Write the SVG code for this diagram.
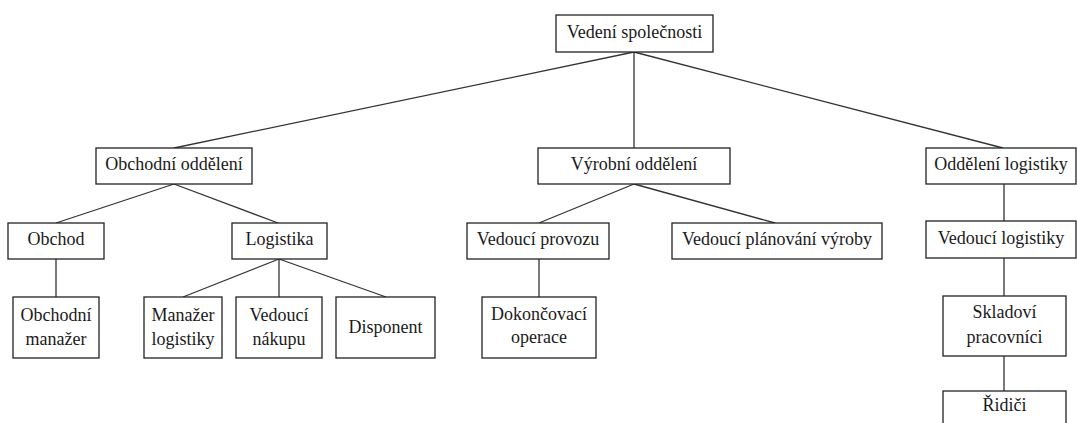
<svg xmlns="http://www.w3.org/2000/svg" width="1077" height="423" viewBox="0 0 1077 423">
<style>
rect.b{fill:#fff;stroke:#222;stroke-width:1.3}
text{font-family:"Liberation Serif","Times New Roman",serif;font-size:18px;fill:#1a1a1a;text-anchor:middle}
.c line{stroke:#333;stroke-width:1.3}
</style>
<rect width="1077" height="423" fill="#fff"/>
<g class="c" id="connectors">
<line x1="634" y1="52" x2="174" y2="148"/>
<line x1="634" y1="52" x2="634" y2="148"/>
<line x1="634" y1="52" x2="1003" y2="148"/>
<line x1="174" y1="184" x2="56" y2="223"/>
<line x1="174" y1="184" x2="278" y2="223"/>
<line x1="56" y1="259" x2="56" y2="297"/>
<line x1="279" y1="259" x2="183" y2="297"/>
<line x1="279" y1="259" x2="279" y2="297"/>
<line x1="279" y1="259" x2="386" y2="297"/>
<line x1="634" y1="184" x2="539" y2="223"/>
<line x1="634" y1="184" x2="775" y2="223"/>
<line x1="539" y1="259" x2="539" y2="297"/>
<line x1="1004" y1="184" x2="1004" y2="221"/>
<line x1="1004" y1="258" x2="1004" y2="296"/>
<line x1="1004" y1="356" x2="1004" y2="391"/>
</g>
<g id="vedeni"><rect class="b" x="556" y="15" width="157" height="37"/><text x="634.5" y="37.5">Vedení společnosti</text></g>
<g id="obchodni-oddeleni"><rect class="b" x="96" y="148" width="156" height="36"/><text x="174" y="170">Obchodní oddělení</text></g>
<g id="vyrobni-oddeleni"><rect class="b" x="538" y="148" width="192" height="36"/><text x="634" y="170">Výrobní oddělení</text></g>
<g id="oddeleni-logistiky"><rect class="b" x="926" y="148" width="150" height="36"/><text x="1001" y="170">Oddělení logistiky</text></g>
<g id="obchod"><rect class="b" x="8" y="223" width="96" height="36"/><text x="56" y="245">Obchod</text></g>
<g id="logistika"><rect class="b" x="232" y="223" width="95" height="36"/><text x="279.5" y="245">Logistika</text></g>
<g id="vedouci-provozu"><rect class="b" x="467" y="223" width="142" height="36"/><text x="538" y="245">Vedoucí provozu</text></g>
<g id="vedouci-planovani"><rect class="b" x="672" y="223" width="210" height="36"/><text x="777" y="245">Vedoucí plánování výroby</text></g>
<g id="vedouci-logistiky"><rect class="b" x="926" y="221" width="150" height="37"/><text x="1001" y="243.5">Vedoucí logistiky</text></g>
<g id="obchodni-manazer"><rect class="b" x="13" y="297" width="86" height="61"/><text x="56" y="321">Obchodní</text><text x="56" y="345">manažer</text></g>
<g id="manazer-logistiky"><rect class="b" x="144" y="297" width="78" height="61"/><text x="183" y="321">Manažer</text><text x="183" y="345">logistiky</text></g>
<g id="vedouci-nakupu"><rect class="b" x="236" y="297" width="86" height="61"/><text x="279" y="321">Vedoucí</text><text x="279" y="345">nákupu</text></g>
<g id="disponent"><rect class="b" x="336" y="297" width="99" height="61"/><text x="385.5" y="333">Disponent</text></g>
<g id="dokoncovaci"><rect class="b" x="482" y="297" width="114" height="61"/><text x="539" y="320">Dokončovací</text><text x="539" y="343">operace</text></g>
<g id="skladovi"><rect class="b" x="943" y="296" width="123" height="60"/><text x="1004.5" y="318">Skladoví</text><text x="1004.5" y="343">pracovníci</text></g>
<g id="ridici"><rect class="b" x="943" y="391" width="123" height="40"/><text x="1004.5" y="411">Řidiči</text></g>
</svg>
